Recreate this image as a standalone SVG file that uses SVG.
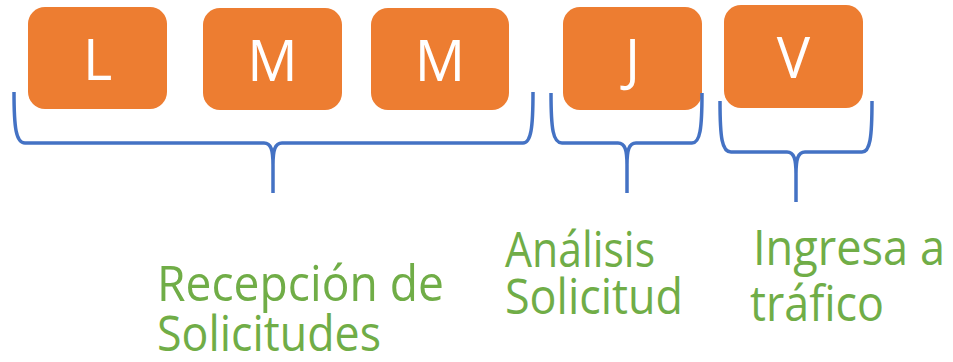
<svg xmlns="http://www.w3.org/2000/svg" width="953" height="362" viewBox="0 0 953 362">
<style>
.box{fill:#ED7D31}
.day{fill:#FFFFFF;font-family:"Open Sans","Noto Sans",sans-serif;font-size:56px;text-anchor:middle}
.brace{fill:none;stroke:#4472C4;stroke-width:3.5;stroke-linejoin:round}
.lbl{fill:#70AD47;font-family:"Open Sans","Noto Sans",sans-serif;font-size:50px}
</style>
<rect width="953" height="362" fill="#FFFFFF"/>
<g id="node-L"><rect class="box" x="28" y="7" width="139" height="102" rx="17"/><text class="day" x="97.5" y="80">L</text></g>
<g id="node-M1"><rect class="box" x="203" y="8" width="139" height="102" rx="17"/><text class="day" x="272.5" y="81">M</text></g>
<g id="node-M2"><rect class="box" x="371" y="8" width="138" height="102" rx="17"/><text class="day" x="440" y="81">M</text></g>
<g id="node-J"><rect class="box" x="563" y="7" width="139" height="103" rx="17"/><text class="day" x="632.5" y="80">J</text></g>
<g id="node-V"><rect class="box" x="724" y="5" width="139" height="103" rx="17"/><text class="day" x="793.5" y="78">V</text></g>
<g id="connectors">
<path class="brace" d="M14,92 C14,128 16,143 25,143 L264,143 C271,143 273,150 273,165 L273,193 M273,165 C273,150 275,143 282,143 L523,143 C531,143 533,128 533,92"/>
<path class="brace" d="M551,93 C551,129 553,143 562,143 L618,143 C625,143 627,150 627,165 L627,193 M627,165 C627,150 629,143 636,143 L692,143 C700,143 702,129 702,93"/>
<path class="brace" d="M720,101 C720,138 722,152 731,152 L787,152 C794,152 796,159 796,174 L796,202 M796,174 C796,159 798,152 805,152 L862,152 C870,152 872,138 872,101"/>
</g>
<g id="labels">
<text class="lbl" x="157" y="301" textLength="287" lengthAdjust="spacingAndGlyphs">Recepción de</text>
<text class="lbl" x="157" y="351" textLength="224" lengthAdjust="spacingAndGlyphs">Solicitudes</text>
<text class="lbl" x="505" y="267" textLength="150" lengthAdjust="spacingAndGlyphs">Análisis</text>
<text class="lbl" x="505" y="314" textLength="178" lengthAdjust="spacingAndGlyphs">Solicitud</text>
<text class="lbl" x="753" y="265" textLength="192" lengthAdjust="spacingAndGlyphs">Ingresa a</text>
<text class="lbl" x="750" y="321" textLength="134" lengthAdjust="spacingAndGlyphs">tráfico</text>
</g>
</svg>
